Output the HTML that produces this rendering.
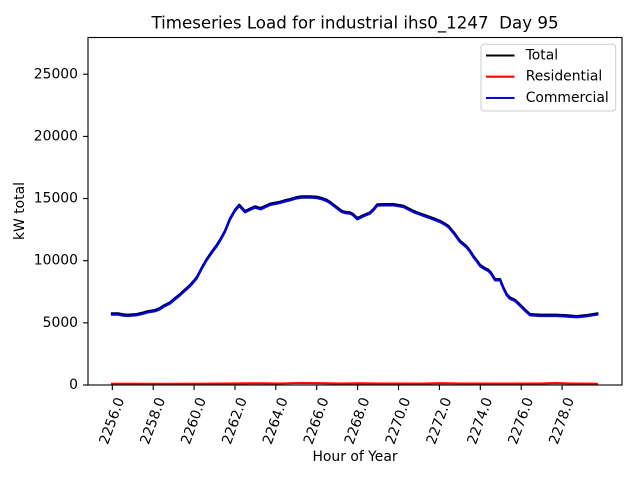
<!DOCTYPE html>
<html><head><meta charset="utf-8"><style>
html,body{margin:0;padding:0;background:#fff;}
svg{display:block;font-family:"DejaVu Sans","Liberation Sans",sans-serif;}
</style></head><body>
<svg width="640" height="480" viewBox="0 0 640 480" xmlns="http://www.w3.org/2000/svg">
<rect width="640" height="480" fill="#fff"/>
<text x="355" y="23" font-size="16.67" text-anchor="middle" dominant-baseline="central" fill="#000" xml:space="preserve" style="white-space:pre">Timeseries Load for industrial ihs0_1247  Day 95</text>
<g fill="none" stroke-linejoin="round" stroke-linecap="square">
<polyline stroke="#ff0000" stroke-width="2.08" points="112,383.8 160,383.9 200,383.8 240,383.4 260,383.3 280,383.5 300,383 320,383.2 340,383.6 360,383.3 380,383.6 400,383.6 420,383.7 440,383.2 460,383.5 480,383.6 500,383.7 520,383.6 540,383.6 556,383.1 570,383.5 597,383.8"/>
<polyline stroke="#000" stroke-width="2.3" transform="translate(0,-0.9)" points="112,314.3 118.3,314.3 123,315.3 128.3,315.7 136.7,315 143,313.5 148.3,312 155,311 160,309 163.3,306.7 170,303.3 175,299 180,295 185,290.5 190,286 196.7,278.3 201,270 206.7,260 211.5,253 216.7,246 221,239 225,231.7 230,219.3 235,210.7 239.3,205.7 245,212 250,209.5 255,207.3 260.7,209 265,207 270,204.7 276,203.5 280,202.7 283.3,201.7 290,200 296,198.2 301.7,197.3 310,197.3 316.7,197.7 322,199 326.7,200.7 331,203.5 335,206.7 341.7,211.7 346,213 350,213.3 352.5,214.5 357.3,219 363,216.3 370,213.3 373.5,210 377.3,205.3 385,205 393.3,205 403.3,206.7 408,209 413.3,211.7 420,214.3 426.7,216.7 433,219 440,221.7 444,224 448.3,226.7 454,233.5 460,241.7 466.7,247.3 470,251.5 473.3,256.7 477,261.5 480,265.7 484,268.5 488.3,270.7 491,273.5 495,280 500,280 503,287.5 506.7,295 510,298.5 515,300.7 520,305.5 525,310.5 530,315 540,315.7 550,315.7 556.7,315.7 566,316.2 576.7,317 586.7,316 597.3,314.3"/>
<polyline stroke="#0000ff" stroke-width="2.08" transform="translate(0,0.4)" points="112,314.3 118.3,314.3 123,315.3 128.3,315.7 136.7,315 143,313.5 148.3,312 155,311 160,309 163.3,306.7 170,303.3 175,299 180,295 185,290.5 190,286 196.7,278.3 201,270 206.7,260 211.5,253 216.7,246 221,239 225,231.7 230,219.3 235,210.7 239.3,205.7 245,212 250,209.5 255,207.3 260.7,209 265,207 270,204.7 276,203.5 280,202.7 283.3,201.7 290,200 296,198.2 301.7,197.3 310,197.3 316.7,197.7 322,199 326.7,200.7 331,203.5 335,206.7 341.7,211.7 346,213 350,213.3 352.5,214.5 357.3,219 363,216.3 370,213.3 373.5,210 377.3,205.3 385,205 393.3,205 403.3,206.7 408,209 413.3,211.7 420,214.3 426.7,216.7 433,219 440,221.7 444,224 448.3,226.7 454,233.5 460,241.7 466.7,247.3 470,251.5 473.3,256.7 477,261.5 480,265.7 484,268.5 488.3,270.7 491,273.5 495,280 500,280 503,287.5 506.7,295 510,298.5 515,300.7 520,305.5 525,310.5 530,315 540,315.7 550,315.7 556.7,315.7 566,316.2 576.7,317 586.7,316 597.3,314.3"/>
</g>
<rect x="88" y="37.5" width="534" height="347.5" fill="none" stroke="#000" stroke-width="1.1"/>
<g stroke="#000" stroke-width="1.1">
<line x1="83" y1="385" x2="88" y2="385"/>
<line x1="83" y1="322.85" x2="88" y2="322.85"/>
<line x1="83" y1="260.7" x2="88" y2="260.7"/>
<line x1="83" y1="198.55" x2="88" y2="198.55"/>
<line x1="83" y1="136.4" x2="88" y2="136.4"/>
<line x1="83" y1="74.25" x2="88" y2="74.25"/>
<line x1="112.3" y1="385" x2="112.3" y2="390"/>
<line x1="153.2" y1="385" x2="153.2" y2="390"/>
<line x1="194.1" y1="385" x2="194.1" y2="390"/>
<line x1="235" y1="385" x2="235" y2="390"/>
<line x1="275.8" y1="385" x2="275.8" y2="390"/>
<line x1="316.7" y1="385" x2="316.7" y2="390"/>
<line x1="357.6" y1="385" x2="357.6" y2="390"/>
<line x1="398.5" y1="385" x2="398.5" y2="390"/>
<line x1="439.4" y1="385" x2="439.4" y2="390"/>
<line x1="480.3" y1="385" x2="480.3" y2="390"/>
<line x1="521.2" y1="385" x2="521.2" y2="390"/>
<line x1="562.1" y1="385" x2="562.1" y2="390"/>
</g>
<g font-size="13.9" text-anchor="end" dominant-baseline="central" fill="#000">
<text x="78" y="385">0</text>
<text x="78" y="322.85">5000</text>
<text x="78" y="260.7">10000</text>
<text x="78" y="198.55">15000</text>
<text x="78" y="136.4">20000</text>
<text x="78" y="74.25">25000</text>
</g>
<g font-size="13.9" text-anchor="middle" dominant-baseline="central" fill="#000">
<text transform="translate(112.3,421) rotate(-70)">2256.0</text>
<text transform="translate(153.2,421) rotate(-70)">2258.0</text>
<text transform="translate(194.1,421) rotate(-70)">2260.0</text>
<text transform="translate(235,421) rotate(-70)">2262.0</text>
<text transform="translate(275.8,421) rotate(-70)">2264.0</text>
<text transform="translate(316.7,421) rotate(-70)">2266.0</text>
<text transform="translate(357.6,421) rotate(-70)">2268.0</text>
<text transform="translate(398.5,421) rotate(-70)">2270.0</text>
<text transform="translate(439.4,421) rotate(-70)">2272.0</text>
<text transform="translate(480.3,421) rotate(-70)">2274.0</text>
<text transform="translate(521.2,421) rotate(-70)">2276.0</text>
<text transform="translate(562.1,421) rotate(-70)">2278.0</text>
<text x="355" y="457">Hour of Year</text>
<text transform="translate(20,211) rotate(-90)">kW total</text>
</g>
<rect x="481" y="44.3" width="134.7" height="66.7" rx="3" ry="3" fill="#fff" fill-opacity="0.8" stroke="#cccccc" stroke-width="1"/>
<g stroke-width="2.08">
<line x1="486" y1="55.5" x2="514.5" y2="55.5" stroke="#000"/>
<line x1="486" y1="76.7" x2="514.5" y2="76.7" stroke="#ff0000"/>
<line x1="486" y1="98" x2="514.5" y2="98" stroke="#0000ff"/>
</g>
<g font-size="13.9" dominant-baseline="central" fill="#000">
<text x="525.7" y="55.5">Total</text>
<text x="525.7" y="76.7">Residential</text>
<text x="525.7" y="98">Commercial</text>
</g>
</svg>
</body></html>
